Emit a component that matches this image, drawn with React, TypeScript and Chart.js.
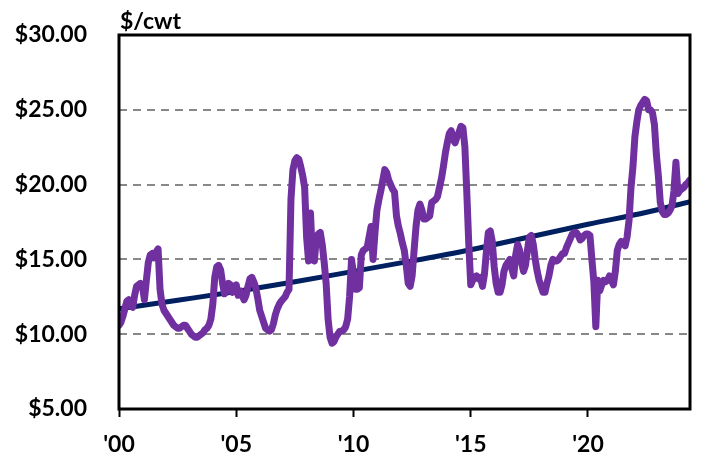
import { useEffect, useRef } from "react";
import { Chart, registerables } from "chart.js";

Chart.register(...registerables);

// Monthly price, $/cwt (Jan..Dec)
const price2000 = [10.6, 10.8, 11.2, 11.7, 12.2, 12.3, 11.9, 11.8, 12.6, 13.2, 13.3, 13.4];
const price2001 = [13.2, 12.3, 13.6, 14.8, 15.3, 15.4, 15.1, 15.5, 15.7, 13.0, 12.0, 11.6];
const price2002 = [11.4, 11.2, 11.0, 10.8, 10.6, 10.5, 10.4, 10.4, 10.5, 10.6, 10.6, 10.4];
const price2003 = [10.2, 10.0, 9.9, 9.8, 9.8, 9.9, 10.0, 10.1, 10.3, 10.4, 10.6, 11.0];
const price2004 = [12.0, 13.8, 14.5, 14.6, 14.3, 13.4, 12.7, 12.9, 13.4, 13.3, 12.8, 13.2];
const price2005 = [13.3, 12.6, 12.9, 12.6, 12.3, 12.6, 13.2, 13.7, 13.8, 13.5, 13.1, 12.4];
const price2006 = [11.6, 11.2, 10.8, 10.4, 10.3, 10.2, 10.3, 10.7, 11.3, 11.7, 12.0, 12.2];
const price2007 = [12.35, 12.5, 12.8, 13.0, 19.0, 21.0, 21.6, 21.8, 21.7, 21.2, 20.6, 19.8];
const price2008 = [16.5, 14.9, 18.1, 15.0, 14.9, 16.5, 16.7, 16.8, 16.0, 14.8, 13.4, 11.0];
const price2009 = [9.8, 9.4, 9.5, 9.8, 10.0, 10.2, 10.2, 10.3, 10.5, 11.0, 12.5, 15.0];
const price2010 = [14.0, 13.0, 13.0, 13.1, 15.3, 15.6, 15.7, 15.8, 16.5, 17.2, 15.0, 16.8];
const price2011 = [18.3, 19.0, 19.6, 20.3, 21.0, 20.8, 20.3, 20.0, 19.7, 19.5, 17.9, 17.2];
const price2012 = [16.7, 16.1, 15.6, 14.6, 13.4, 13.2, 13.9, 15.6, 17.2, 18.3, 18.7, 18.3];
const price2013 = [17.7, 17.7, 17.8, 17.9, 18.8, 18.9, 19.0, 19.2, 19.8, 20.4, 21.2, 22.1];
const price2014 = [22.8, 23.4, 23.6, 23.0, 22.8, 23.2, 23.5, 23.9, 23.8, 22.5, 19.4, 16.0];
const price2015 = [13.3, 13.6, 13.8, 13.9, 13.7, 13.8, 13.2, 14.0, 15.5, 16.8, 16.9, 16.2];
const price2016 = [14.5, 13.4, 12.8, 12.8, 13.3, 14.2, 14.6, 14.8, 15.0, 14.4, 13.9, 15.3];
const price2017 = [16.0, 15.6, 14.8, 14.2, 14.6, 15.6, 16.5, 16.6, 16.0, 15.0, 14.2, 13.6];
const price2018 = [13.2, 12.8, 12.8, 13.4, 13.9, 14.6, 15.0, 14.9, 14.9, 15.0, 15.2, 15.4];
const price2019 = [15.4, 15.8, 16.1, 16.4, 16.7, 16.8, 16.8, 16.6, 16.3, 16.4, 16.6, 16.7];
const price2020 = [16.7, 16.6, 15.0, 13.5, 10.5, 13.6, 12.9, 13.3, 13.6, 13.5, 13.6, 13.9];
const price2021 = [13.6, 13.3, 14.2, 15.6, 16.0, 16.2, 16.1, 15.9, 16.5, 17.6, 19.8, 21.2];
const price2022 = [23.2, 24.2, 25.0, 25.3, 25.5, 25.7, 25.6, 25.0, 25.0, 24.8, 24.0, 22.0];
const price2023 = [20.6, 18.8, 18.2, 18.0, 18.0, 18.1, 18.3, 18.6, 19.6, 21.5, 19.4, 19.6];
const price2024 = [19.7, 19.8, 20.0, 20.1, 20.3];

const monthlyPrice = [
  ...price2000, ...price2001, ...price2002, ...price2003, ...price2004,
  ...price2005, ...price2006, ...price2007, ...price2008, ...price2009,
  ...price2010, ...price2011, ...price2012, ...price2013, ...price2014,
  ...price2015, ...price2016, ...price2017, ...price2018, ...price2019,
  ...price2020, ...price2021, ...price2022, ...price2023, ...price2024,
];
const startYear = 2000;
const endYear = 2024.35;

// Trend line read at points
const trendYears = [2000, 2002.5, 2005, 2007.5, 2010, 2012.5, 2015, 2017.5, 2020, 2022.5, 2024.35];
const trendValues = [11.7, 12.27, 12.85, 13.5, 14.2, 14.9, 15.65, 16.5, 17.35, 18.15, 18.86];

const xTickValues = [2000, 2005, 2010, 2015, 2020];
const xTickLabels = ["'00", "'05", "'10", "'15", "'20"];
const yTickValues = [5, 10, 15, 20, 25, 30];
const yTickLabels = ["$5.00", "$10.00", "$15.00", "$20.00", "$25.00", "$30.00"];
const unitLabel = "$/cwt";

const FONT = "Lato";

export default function App() {
  const ref = useRef<HTMLCanvasElement | null>(null);

  useEffect(() => {
    if (!ref.current) return;
    const pricePoints = monthlyPrice.map((v, i) => ({ x: startYear + i / 12, y: v }));
    const trendPoints = trendYears.map((x, i) => ({ x, y: trendValues[i] }));

    const framePlugin = {
      id: "frame",
      afterDatasetsDraw(chart: any) {
        const { ctx, chartArea } = chart;
        const { left, top, right, bottom } = chartArea;
        ctx.save();
        ctx.strokeStyle = "#000";
        ctx.lineWidth = 3;
        ctx.strokeRect(left, top, right - left, bottom - top);
        ctx.fillStyle = "#000";
        ctx.font = `bold 23px ${FONT}`;
        ctx.textAlign = "left";
        ctx.textBaseline = "alphabetic";
        ctx.fillText(unitLabel, left + 1, top - 6);
        ctx.restore();
      },
    };

    const chart = new Chart(ref.current, {
      type: "line",
      data: {
        datasets: [
          {
            data: pricePoints,
            borderColor: "#7030A0",
            borderWidth: 7,
            pointRadius: 0,
            tension: 0,
            borderJoinStyle: "round",
            borderCapStyle: "round",
          },
          {
            data: trendPoints,
            borderColor: "#002060",
            borderWidth: 5,
            pointRadius: 0,
            cubicInterpolationMode: "monotone",
            borderCapStyle: "round",
          },
        ],
      } as any,
      options: {
        animation: false,
        responsive: false,
        maintainAspectRatio: false,
        layout: { padding: { left: 0, right: 12, top: 35, bottom: 0 } },
        plugins: { legend: { display: false }, tooltip: { enabled: false }, title: { display: false } },
        scales: {
          x: {
            type: "linear",
            min: startYear,
            max: endYear,
            afterBuildTicks: (scale: any) => {
              scale.ticks = xTickValues.map((v) => ({ value: v }));
            },
            afterFit: (scale: any) => {
              scale.height = 50;
              scale.paddingLeft = 0;
              scale.paddingRight = 0;
            },
            ticks: {
              autoSkip: false,
              maxRotation: 0,
              padding: 14,
              color: "#000",
              font: { family: FONT, size: 23, weight: "bold" },
              callback: (v: any) => xTickLabels[xTickValues.indexOf(Number(v))] ?? "",
            },
            grid: {
              display: true,
              drawOnChartArea: false,
              drawTicks: true,
              tickLength: 8,
              tickColor: "#000",
              tickWidth: 2,
            },
            border: { display: false },
          },
          y: {
            min: 5,
            max: 30,
            afterBuildTicks: (scale: any) => {
              scale.ticks = yTickValues.map((v) => ({ value: v }));
            },
            afterFit: (scale: any) => {
              scale.width = 119;
              scale.paddingTop = 0;
              scale.paddingBottom = 0;
            },
            ticks: {
              padding: 32,
              color: "#000",
              font: { family: FONT, size: 23, weight: "bold" },
              callback: (v: any) => yTickLabels[yTickValues.indexOf(Number(v))] ?? "",
            },
            grid: {
              drawTicks: false,
              lineWidth: 2,
              color: (c: any) =>
                c.tick && (c.tick.value === 5 || c.tick.value === 30) ? "rgba(0,0,0,0)" : "#888888",
            },
            border: { display: false, dash: [8, 6] },
          },
        },
      } as any,
      plugins: [framePlugin],
    });
    return () => chart.destroy();
  }, []);

  return (
    <div style={{ position: "absolute", left: 0, top: 0, width: 702, height: 459, background: "#fff" }}>
      <canvas ref={ref} width={702} height={459} style={{ display: "block" }} />
    </div>
  );
}
